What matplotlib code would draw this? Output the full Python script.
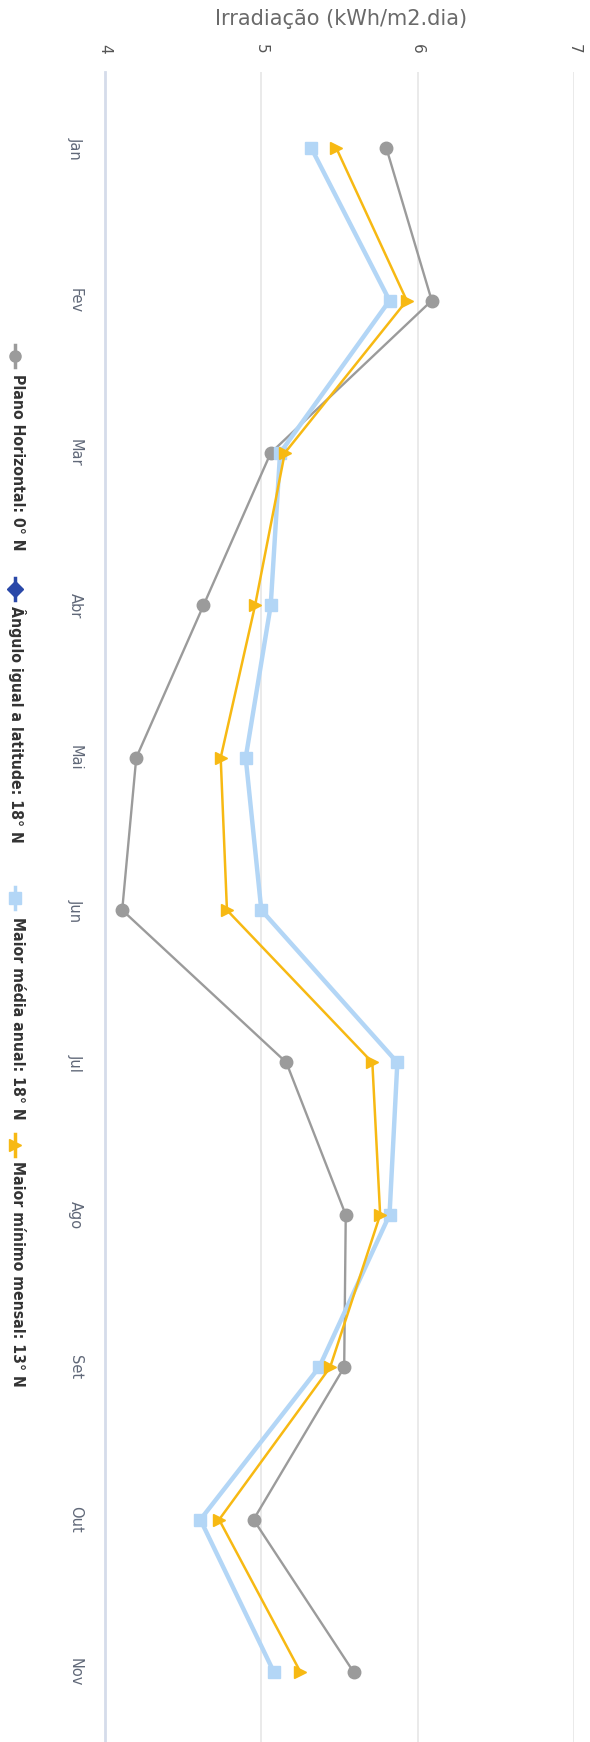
import matplotlib
matplotlib.use("Agg")
import matplotlib.pyplot as plt
from matplotlib.lines import Line2D

# data
months = ["Jan", "Fev", "Mar", "Abr", "Mai", "Jun", "Jul", "Ago", "Set", "Out", "Nov"]
plano_horizontal = [5.80, 6.09, 5.06, 4.63, 4.20, 4.11, 5.16, 5.54, 5.53, 4.95, 5.59]
angulo_latitude = [5.32, 5.82, 5.12, 5.06, 4.90, 5.00, 5.87, 5.82, 5.37, 4.61, 5.08]
maior_media = [5.32, 5.82, 5.12, 5.06, 4.90, 5.00, 5.87, 5.82, 5.37, 4.61, 5.08]
maior_minimo = [5.48, 5.93, 5.15, 4.96, 4.74, 4.78, 5.71, 5.76, 5.44, 4.73, 5.25]
value_ticks = [4, 5, 6, 7]
legend_labels = ["Plano Horizontal: 0° N", "Ângulo igual a latitude: 18° N",
                 "Maior média anual: 18° N", "Maior mínimo mensal: 13° N"]

W, H = 590, 1742
fig = plt.figure(figsize=(W / 100, H / 100), dpi=100)
fig.patch.set_facecolor("white")

# axes in pixel terms: x 105..574, top at 72, runs past the bottom edge
left_px, right_px, top_px = 105, 574, 72
ax = fig.add_axes([left_px / W, 0, (right_px - left_px) / W, 1 - top_px / H])
x_idx = list(range(len(months)))

gray = "#9b9b9b"
dark_blue = "#2a48a8"
light_blue = "#b3d6f6"
yellow = "#f7b913"

ax.plot(plano_horizontal, x_idx, color=gray, lw=1.7, marker="o", ms=9, zorder=3)
ax.plot(angulo_latitude, x_idx, color=dark_blue, lw=1, zorder=3)
ax.plot(maior_media, x_idx, color=light_blue, lw=3.2, marker="s", ms=9, zorder=4)
ax.plot(maior_minimo, x_idx, color=yellow, lw=1.8, marker=">", ms=9, zorder=5)

ax.set_xlim(4, 7)
ax.set_ylim((H - 148) / 152.4, -0.5)

ax.xaxis.tick_top()
ax.set_xticks(value_ticks)
ax.set_xticklabels([str(v) for v in value_ticks], rotation=-90, fontsize=11, color="#555555")
ax.tick_params(axis="x", length=0, pad=13)
ax.set_yticks(x_idx)
ax.set_yticklabels(months, rotation=-90, fontsize=10.5, color="#606878", va="center")
ax.tick_params(axis="y", length=0, pad=16)

ax.grid(axis="x", color="#e6e6e6", lw=1.2)
for s in ["top", "right", "bottom"]:
    ax.spines[s].set_visible(False)
ax.spines["left"].set_color("#d5dcea")
ax.spines["left"].set_linewidth(2)

fig.text(341 / W, 1 - 19 / H, "Irradiação (kWh/m2.dia)", ha="center", va="center",
         fontsize=15, color="#6a6a6a")

# legend drawn vertically (chart is rotated)
leg_colors = [gray, dark_blue, light_blue, yellow]
leg_markers = ["o", "D", "s", ">"]
marker_y = [356, 589, 898, 1145]
text_y = [374, 606, 917, 1161]
for lab, col, mk, my, ty in zip(legend_labels, leg_colors, leg_markers, marker_y, text_y):
    fig.add_artist(Line2D([15 / W, 15 / W], [1 - (my - 11) / H, 1 - (my + 11) / H],
                          transform=fig.transFigure, color=col, lw=2.5))
    fig.add_artist(Line2D([15 / W], [1 - my / H], transform=fig.transFigure,
                          color=col, marker=mk, ms=8, lw=0))
    fig.text(17 / W, 1 - ty / H, lab, rotation=-90, ha="center", va="top",
             fontsize=11.3, fontweight="bold", fontstretch="condensed",
             color="#333333", family="DejaVu Sans")

fig.savefig("out.png", dpi=100)
